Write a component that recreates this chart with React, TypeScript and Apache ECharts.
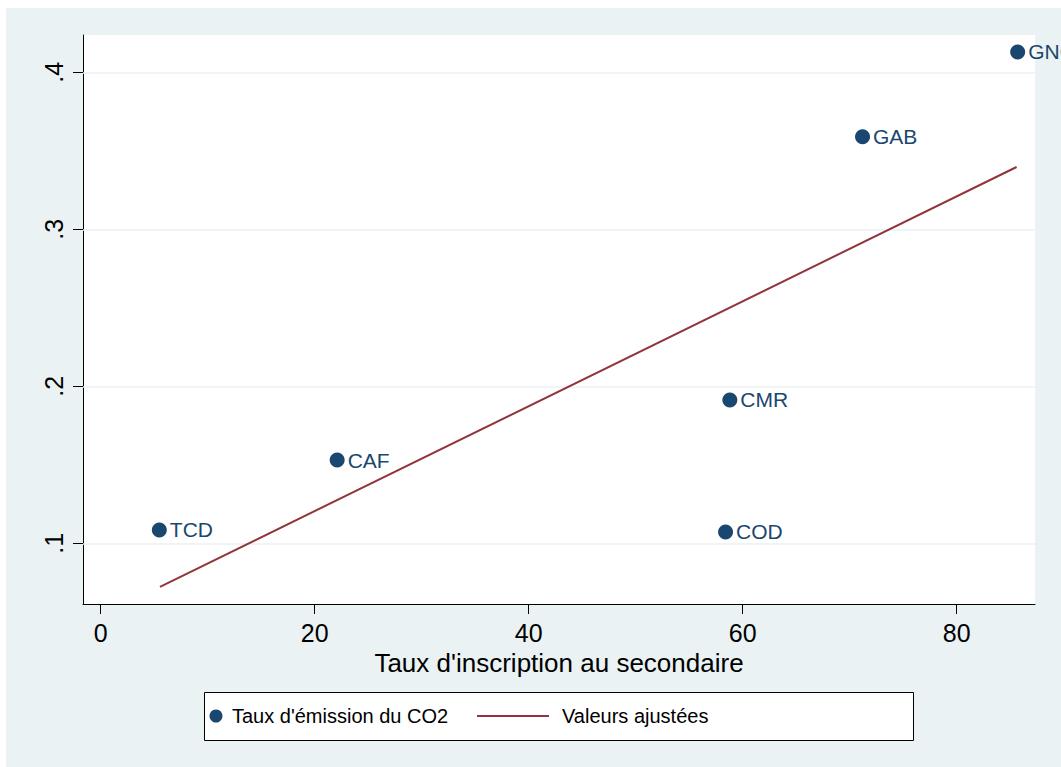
import React, { useEffect, useRef } from "react";
import * as echarts from "echarts";

const countries = ["TCD", "CAF", "CMR", "COD", "GAB", "GNQ"];
const enrolment = [5.48, 22.1, 58.8, 58.4, 71.2, 85.7];
const co2 = [0.1085, 0.153, 0.1913, 0.1072, 0.359, 0.413];
const fittedX = [5.54, 85.6];
const fittedY = [0.0722, 0.3397];
const xTicks = [0, 20, 40, 60, 80];
const yTicks = [0.1, 0.2, 0.3, 0.4];
const xTitle = "Taux d'inscription au secondaire";
const legendScatter = "Taux d'émission du CO2";
const legendLine = "Valeurs ajustées";

const NAVY = "#1A476F";
const MAROON = "#90353B";
const BG = "#EAF2F3";
const FONT = "'Liberation Sans', Arial, Helvetica, sans-serif";

export default function App() {
  const ref = useRef<HTMLDivElement>(null);
  useEffect(() => {
    if (!ref.current) return;
    const chart = echarts.init(ref.current, undefined, { renderer: "svg" });
    const points = countries.map((c, i) => ({ name: c, value: [enrolment[i], co2[i]] }));
    const fitted = fittedX.map((x, i) => [x, fittedY[i]]);
    chart.setOption({
      animation: false,
      backgroundColor: BG,
      textStyle: { fontFamily: FONT },
      grid: {
        left: 77,
        top: 27,
        width: 952,
        height: 569,
        show: true,
        backgroundColor: "#ffffff",
        borderWidth: 0,
      },
      xAxis: {
        type: "value",
        min: -1.654,
        max: 87.32,
        name: xTitle,
        nameLocation: "middle",
        nameGap: 42,
        nameTextStyle: { fontSize: 26, color: "#000", fontFamily: FONT, verticalAlign: "top" },
        axisLine: { show: true, onZero: false, lineStyle: { color: "#000", width: 1 } },
        axisTick: { show: true, length: 10, customValues: xTicks, lineStyle: { color: "#000", width: 1 } },
        axisLabel: {
          customValues: xTicks,
          fontSize: 25,
          color: "#000",
          margin: 16,
          fontFamily: FONT,
        },
        splitLine: { show: false },
      },
      yAxis: {
        type: "value",
        min: 0.0613,
        max: 0.4238,
        axisLine: { show: true, onZero: false, lineStyle: { color: "#000", width: 1 } },
        axisTick: { show: true, length: 10, customValues: yTicks, lineStyle: { color: "#000", width: 1 } },
        axisLabel: {
          customValues: yTicks,
          rotate: 90,
          fontSize: 25,
          color: "#000",
          margin: 17,
          fontFamily: FONT,
          formatter: (v: number) => "." + Math.round(v * 10),
        },
        splitLine: { show: false },
      },
      series: [
        {
          type: "line",
          data: [],
          silent: true,
          z: 1,
          markLine: {
            silent: true,
            z: 1,
            symbol: "none",
            label: { show: false },
            lineStyle: { color: BG, width: 1.5, type: "solid", opacity: 1 },
            emphasis: { disabled: true },
            data: yTicks.map((v) => ({ yAxis: v })),
          },
        },
        {
          type: "line",
          data: fitted,
          showSymbol: false,
          symbol: "none",
          silent: true,
          z: 3,
          lineStyle: { color: MAROON, width: 2, opacity: 1 },
        },
        {
          type: "scatter",
          data: points,
          symbol: "circle",
          symbolSize: 15,
          clip: false,
          z: 4,
          itemStyle: { color: NAVY, opacity: 1 },
          label: {
            show: true,
            position: "right",
            distance: 3,
            formatter: (p: any) => p.name,
            color: NAVY,
            opacity: 1,
            fontSize: 21,
            fontFamily: FONT,
          },
        },
      ],
      graphic: [
        {
          type: "rect",
          left: 198,
          top: 684,
          shape: { width: 709, height: 48 },
          style: { fill: "#ffffff", stroke: "#000000", lineWidth: 1 },
          z: 10,
        },
        {
          type: "circle",
          shape: { cx: 210, cy: 708, r: 6.5 },
          style: { fill: NAVY },
          z: 11,
        },
        {
          type: "text",
          x: 226,
          y: 708,
          style: {
            text: legendScatter,
            fontSize: 20,
            fontFamily: FONT,
            fill: "#000",
            verticalAlign: "middle",
            align: "left",
          },
          z: 11,
        },
        {
          type: "line",
          shape: { x1: 471, y1: 708, x2: 543, y2: 708 },
          style: { stroke: MAROON, lineWidth: 2 },
          z: 11,
        },
        {
          type: "text",
          x: 556,
          y: 708,
          style: {
            text: legendLine,
            fontSize: 20,
            fontFamily: FONT,
            fill: "#000",
            verticalAlign: "middle",
            align: "left",
          },
          z: 11,
        },
      ],
    });
    return () => chart.dispose();
  }, []);
  return (
    <div
      ref={ref}
      style={{ position: "absolute", left: 6, top: 8, width: 1055, height: 759 }}
    />
  );
}
